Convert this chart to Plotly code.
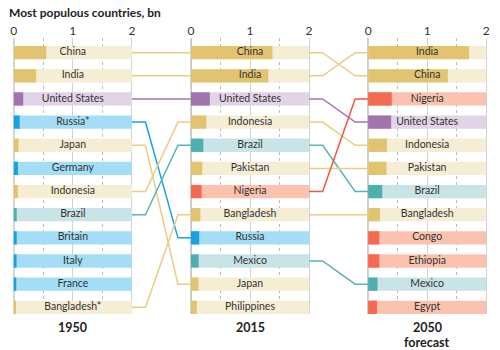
import plotly.graph_objects as go

# ---------------- data ----------------
AXIS_MAX = 2  # bn
years = ["1950", "2015", "2050"]
year_notes = ["", "", "forecast"]

countries_1950 = ["China", "India", "United States", "Russia*", "Japan", "Germany",
                  "Indonesia", "Brazil", "Britain", "Italy", "France", "Bangladesh*"]
pop_1950 = [0.55, 0.38, 0.16, 0.10, 0.08, 0.07, 0.07, 0.05, 0.05, 0.047, 0.042, 0.038]
region_1950 = ["asia", "asia", "us", "europe", "asia", "europe",
               "asia", "latam", "europe", "europe", "europe", "asia"]

countries_2015 = ["China", "India", "United States", "Indonesia", "Brazil", "Pakistan",
                  "Nigeria", "Bangladesh", "Russia", "Mexico", "Japan", "Philippines"]
pop_2015 = [1.38, 1.31, 0.32, 0.26, 0.21, 0.19, 0.18, 0.16, 0.14, 0.13, 0.13, 0.10]
region_2015 = ["asia", "asia", "us", "asia", "latam", "asia",
               "africa", "asia", "europe", "latam", "asia", "asia"]

countries_2050 = ["India", "China", "Nigeria", "United States", "Indonesia", "Pakistan",
                  "Brazil", "Bangladesh", "Congo", "Ethiopia", "Mexico", "Egypt"]
pop_2050 = [1.71, 1.35, 0.40, 0.39, 0.32, 0.31, 0.24, 0.20, 0.19, 0.19, 0.16, 0.15]
region_2050 = ["asia", "asia", "africa", "us", "asia", "asia",
               "latam", "asia", "africa", "africa", "latam", "africa"]

# ---------------- styles ----------------
dark = {"asia": "#E2C370", "us": "#A274AC", "europe": "#17A3E3",
        "latam": "#4DB0AF", "africa": "#F46A50"}
light = {"asia": "#F6EDD5", "us": "#E2D3E7", "europe": "#A4DDF6",
         "latam": "#C9E4E6", "africa": "#FBC3AF"}
linec = {"asia": "#EACD84", "us": "#A274AC", "europe": "#17A3E3",
         "latam": "#5AB4B4", "africa": "#F0573B"}

FONT = "Lato"
panels = [(countries_1950, pop_1950, region_1950),
          (countries_2015, pop_2015, region_2015),
          (countries_2050, pop_2050, region_2050)]
GAP = 1  # gap between panels, in axis units
offsets = [i * (AXIS_MAX + GAP) for i in range(len(panels))]
BAR_W = 0.575

fig = go.Figure()

# connector lines
def norm(n):
    return n.rstrip("*")

for p in range(len(panels) - 1):
    a_names = [norm(n) for n in panels[p][0]]
    b_names = [norm(n) for n in panels[p + 1][0]]
    x0 = offsets[p] + AXIS_MAX
    x1 = offsets[p + 1]
    for i, n in enumerate(a_names):
        if n in b_names:
            j = b_names.index(n)
            fig.add_trace(go.Scatter(
                x=[x0, x0 + 0.23 * GAP, x0 + 0.78 * GAP, x1],
                y=[i, i, j, j], mode="lines",
                line=dict(color=linec[panels[p][2][i]], width=1.5),
                hoverinfo="skip", showlegend=False))

for p, (names, vals, regs) in enumerate(panels):
    rows = list(range(len(names)))
    off = offsets[p]
    fig.add_trace(go.Bar(
        y=rows, x=[AXIS_MAX] * len(rows), base=off, orientation="h",
        width=BAR_W, marker=dict(color=[light[r] for r in regs], line=dict(width=0)),
        hoverinfo="skip", showlegend=False))
    fig.add_trace(go.Bar(
        y=rows, x=vals, base=off, orientation="h",
        width=BAR_W, marker=dict(color=[dark[r] for r in regs], line=dict(width=0)),
        showlegend=False))
    fig.add_trace(go.Scatter(
        y=rows, x=[off + AXIS_MAX / 2] * len(rows), mode="text", text=names,
        textposition="middle center",
        textfont=dict(family=FONT, size=10.5, color="#333333"),
        hoverinfo="skip", showlegend=False))
    fig.add_annotation(
        x=off + AXIS_MAX / 2, y=0, xref="x", yref="paper", yanchor="top",
        yshift=-5, borderpad=0, text="<b>%s</b>" % years[p], showarrow=False,
        font=dict(family=FONT, size=12.5, color="#222222"))
    if year_notes[p]:
        fig.add_annotation(
            x=off + AXIS_MAX / 2, y=0, xref="x", yref="paper", yanchor="top",
            yshift=-20, borderpad=0, text="<b>%s</b>" % year_notes[p],
            showarrow=False, font=dict(family=FONT, size=12.5, color="#222222"))
    fig.add_shape(type="line", x0=off, x1=off, y0=0, y1=1, xref="x",
                  yref="y domain", line=dict(color="#999999", width=1.2),
                  layer="below")

tickvals = []
ticktext = []
minorvals = []
for off in offsets:
    for k in range(AXIS_MAX + 1):
        tickvals.append(off + k)
        ticktext.append(str(k))
    for k in range(AXIS_MAX):
        minorvals.append(off + k + 0.5)

fig.update_layout(
    width=500, height=350,
    margin=dict(l=10, r=10, t=38, b=36),
    paper_bgcolor="white", plot_bgcolor="white",
    barmode="overlay",
    title=dict(text="<b>Most populous countries, bn</b>", x=0.018, xanchor="left",
               xref="container", y=0.963, yref="container", yanchor="middle",
               font=dict(family=FONT, size=12, color="#222222")),
    xaxis=dict(range=[-0.03, offsets[-1] + AXIS_MAX + 0.03], side="top",
               tickvals=tickvals, ticktext=ticktext, ticks="",
               tickfont=dict(family=FONT, size=12, color="#333333"),
               showgrid=True, gridcolor="#D2D2D2", gridwidth=1,
               zeroline=False, showline=False,
               minor=dict(tickvals=minorvals, showgrid=True, gridcolor="#BBBBBB",
                          griddash="dot", gridwidth=1, ticks="")),
    yaxis=dict(range=[11.29, -0.634], showticklabels=False, showgrid=False,
               zeroline=False, showline=False),
)

fig.write_html("out.html")
